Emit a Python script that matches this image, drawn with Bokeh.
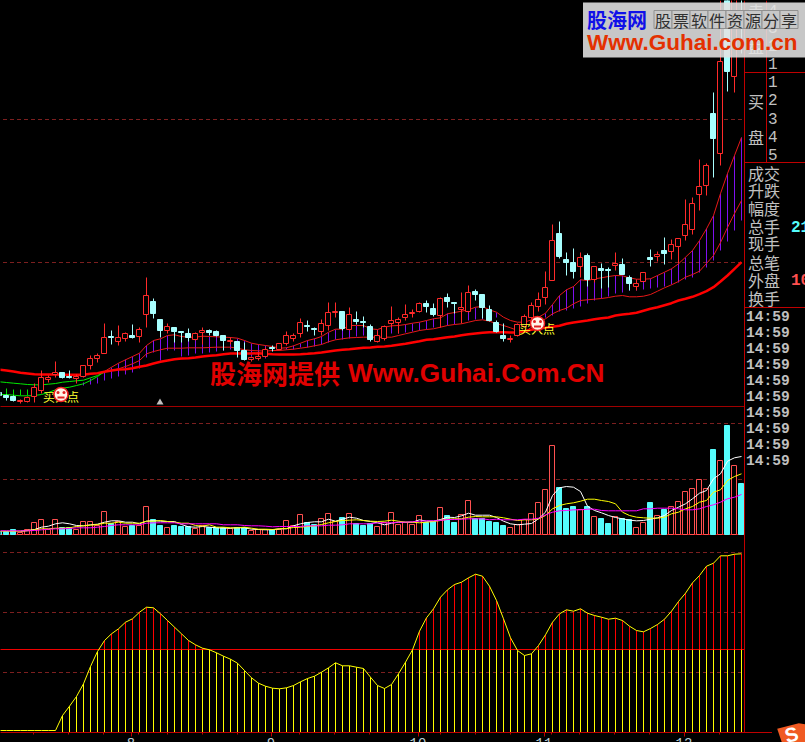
import numpy as np
from bokeh.embed import file_html
from bokeh.resources import INLINE
from bokeh.plotting import figure
from bokeh.models import Range1d, FixedTicker
from bokeh.core.properties import value

# ---------- data (one value per trading bar, 107 bars) ----------
# 1 = rising bar (red hollow), 0 = falling bar (cyan filled)
rising = "000 111111 00 11111 0 11 0 11 00 1 000 11 000 1 00 111 0 1111 00 111 0 1 000 1111111 00 1 00 11 00000 1111111 000 1 0 1 00 1 00 11 0 1 0 111111 0 1 0 1 0"
candle_high = [20,13,12,8,11,23.7,37,32.3,46,35,37,32.7,42,52,53.7,83.7,77,82,75.3,83,80.3,129.7,108.7,88,83.7,80,76,78.7,75.3,79.7,78.3,77,72,70.3,66,65.3,51,55.3,60.3,
    62,64.3,76,73.7,88.7,87,79.7,87.7,105,105,96,99.7,96,91,83,77,82,101,90.3,103,97.7,104.7,107,103.7,109.7,113.7,104.7,115,122,118,113,102,87,83.7,71.7,83.7,93,
    105.3,115.3,136,183,185.7,154.7,158.7,154.7,153.7,140.7,143.7,139.7,155,148.7,132.3,128.3,134.7,157.7,156,169.7,167.7,169.3,207.7,210.3,248,243.7,315.3,407,420,420,420]
candle_top = [15,12,11,7,10.3,20.3,29.7,29.7,34.7,35,31,31,42,49,52,69.7,71,70,74,72,77.7,111.7,106,88,81,80,76,74,73.7,77,77,76,72,67,66,57,49.7,51,57.7,
    59.7,63.7,71.7,72,85,82,78.7,83.7,95,95.7,96,92.7,88,86.3,81,71.7,81,87,88.3,93,95,104,104,99,109,110,104.7,99.7,115,116,113,98,84.7,72,69,82.7,91,
    101.7,107.7,120.3,166.7,174,147.7,144.7,149.7,151.7,140.7,139,138.3,144,142.7,129.7,123.7,134.7,150,152.7,156.7,162.7,169,183,203.7,221,242,293.7,346,407,415,420]
candle_bottom = [12,10.3,7,5.7,6,11,17,28.3,33,29.7,30.3,29.3,31,42,49.3,54.3,70,66,69,70,71,93,93.7,77,77,76,75,70,68,75,75,72,67,66,57,48,48.3,49,51,
    59,58.3,63.7,69.3,74.3,81,77.7,75.7,82.3,95,78.7,77.7,86,84.7,67.7,65.7,69,83.7,85.3,90,94.3,96.3,101.3,93,92.3,105.7,103.7,97.7,96.3,113.3,100,87,76,68.7,68.3,72,81.3,
    90.3,101,110.3,127.3,151.3,145.3,136,141.3,128.3,127.7,137.3,137.3,142.3,133.3,124.3,121.3,126.3,148.3,151.3,154.3,156.3,161.3,172,178.3,213.3,222.3,269.3,253.7,336.3,331,410]
candle_low = [8,7,6.3,3.7,4.7,5.3,14.3,25.3,29.7,28.7,28.7,23.7,29.7,37.7,45.3,54.3,63,62,66.3,68.7,65.3,80.3,88.7,69.7,74.3,65.3,65.3,66,67,63,72,71,57,63,50.3,47,46.3,47,49.7,
    56.3,57,61.7,65.7,70.3,75.7,72,72,77,89.7,77,77,83,79.7,66.3,65,67,80.3,73.7,87,89.7,95.3,95.3,91,80.3,99.7,93.7,84.3,95.3,107,88.7,86.3,75.3,66.3,65,71.3,80.3,
    87,96,103,127,149.3,132,129.3,129.7,121,125.3,118.7,120.3,137,132.7,117,117,126,141,146,143,147.7,144.3,167,172.7,197,212,229.7,242,316.3,315.3,353.7]

# long moving average, all bars
ma_long = [37.7,37,36,34.7,34,33.3,33,33,33,32.7,32.7,32.7,32.7,33.7,34.3,35.7,37,38,38.3,39.3,40.7,42,44,45.7,47,48.3,49,49.3,50,51,51.7,52.3,53.3,54,54,54,54,54.3,53.7,
    53.3,53,53,53,53.3,53.7,54.3,55,56,57,57.7,58.3,59,59.7,60,60.7,61,61.7,62.7,63.7,65,66.3,67.7,68.3,69.3,70.3,71,72.3,73.3,74,74.7,75.3,75.3,75.3,75,75,76.3,
    77.7,79,79.7,80.7,81.7,83.7,85,86,87,88.3,89.3,90,92,93,93.7,94.7,96.7,98.7,100.3,102.3,104.3,107,108.7,110.7,113.3,116.3,120.3,126,132,138.7,145.3]
# green averages, bars 0-15
ma_green_upper = [25.7,25,24.3,23.7,23,22.7,22.7,23.3,24,25.3,26,26.7,27.3,29.7,32,35.3]
ma_green_lower = [13,13,12.3,11.7,11.7,12,13,15,17.7,19.3,20.3,22,23.7,27,31,36]
green_bar_top = [18.7,17.7,17.7,17.7]  # bars 1-4
# thin red averages, bars 15-106
ma_upper = [36,40.3,44.3,47.7,51,54.3,62,67,68.7,72,72.7,71,70.3,70.3,71.3,71,70.7,70.3,70,69.3,67,64.3,63,62,
    61,59.3,59.7,61.7,64.3,67,68.7,71,75.3,78.3,78.3,82,82,82,78.7,78,80.3,81.7,82,83,84.3,85.3,87,88.7,89.7,93.7,95,96.3,97.7,100.3,101,97.7,95.3,90.3,87,85.3,85.3,
    87.7,90.3,94.3,103,112,117.7,121,127.7,127,128.7,129.7,131,132,131.7,129.7,128.3,128.3,128.7,132,135.3,138.7,143.7,150.3,157,167,178.7,192,214,234,252,270]
ma_lower = [36,37,38.7,41,43.7,47,53.7,56,57.7,59.3,59.3,59.3,59.7,59.7,59.7,60,60.3,60.3,60.3,59.3,57.7,57,56.7,56.3,
    57,57,57.7,58.3,59.3,60.3,61.7,63,65.7,67.7,68.7,69.7,70,70.3,70.3,70.3,70.3,70.3,72,73.7,75.3,77,78,78.7,80.3,82,83,83.7,85.3,87,87.7,86.3,83.7,82,79.7,77,75.3,
    80.3,85,88.7,93.7,97,99.3,103.7,107,107.7,108.3,109,110,111.3,112,110.7,110.7,111.3,113,116.3,119.7,122.7,126,130.3,133,136.3,144,152,165,180,194,207]
# purple bars, bars 12-106
purple_top = [25.3,28.7,30.3] + ma_upper
purple_bottom = [21.7,22.7,24,27,29.3,31,33,35.3,38.7,49.7,55.3,47,57,57,51,52,53.7,54.3,55.3,56,57,57.7,57,55.3,51,49.7,48.7,
    57,57.7,57.7,58.3,59.7,60.3,61,63,65.3,67.7,67.7,68.7,71,72,70.3,70.3,70.3,74.3,73.7,75,76,77,77.7,79.7,80.3,82,83,84.7,87,87.7,88,87,90.3,90.3,87,85.3,85.3,
    87.7,90.3,90.3,92,96,97,98.7,101,103.7,107,109.3,111,114.3,115.3,117,117,117.7,119.3,119.7,121,123,124.7,127.7,130.3,135,140,147,157,166,177,187]

# volume, all bars
volume = [3.3,3,4.7,2.3,4.7,11.7,14.7,4.7,14.7,7.3,7.3,5.3,12.7,12.7,9,22.7,10.7,13.3,8,9,9,27.7,14.7,9,6.7,9,8,8,6,8.7,6.7,6.7,6.7,5.7,6.7,7.3,4,4.7,4.7,
    4.7,4.7,14,8.7,19.7,11.7,9.7,15.7,20.7,13.3,17,20.7,10.7,9,11.3,8,12.3,21.7,10,12.3,9.7,18.7,12.3,13,26.7,18.7,12,19.7,33.7,15.7,15.7,13,12,9,6.7,9.7,14.7,
    20.7,31.7,44.7,88.7,47.3,25.7,28,24.7,28,18,16.3,11.3,18,16.3,14.7,6.7,12,32,19,25.3,28,33,43,45.7,54.7,45.7,85,73.7,109,68.7,51]
vol_ma_white = [3.3,4,5,7.3,8.3,10.7,11.7,10.7,9,8.7,9.7,10.3,12.3,13.7,13.7,12.3,12.3,10.7,13.3,14,13.3,13,13,10,7.7,7.3,8,7.3,6.7,6.3,6.3,6.7,6.7,5.3,5,4.7,
    4.7,5.7,5.7,8.7,10.7,12,12.7,12.7,15.3,13.3,15.3,17.3,16.3,14,13,11.7,9.7,11.3,12.3,12.3,12.3,14.7,13.3,13.3,15,17.3,17,18.7,21.3,19.3,19.3,19.3,17,13.3,10.7,9.7,
    10.3,11,15.7,22.3,39,46.7,48,47.3,43,28.3,24,21.7,19,17,15.7,14.3,13.7,14,15.3,16.7,19,24,27.3,30.7,35.7,41.3,44,55.7,60.7,73.3,76.7,78]  # bars 3-106
vol_ma_yellow = [3.3,3.3,3.3,3.3,3.7,4.7,5.7,5.7,6.3,6.3,6.7,8,8.7,9.3,10,11.3,11.3,12.3,11.3,11.3,11.3,13.3,13.3,14,13,12.3,11.3,11.3,9,8.3,9.7,7.3,7.3,6.7,6.7,7.3,6.3,5.3,5.3,
    5,5.7,6,7,7.3,8,8.7,10,11.7,13,14,14.3,14.7,14,13.3,13,13.3,14.3,13.3,12.3,12.3,11.7,12.3,13,14,15.3,15.7,15.7,17.3,18,17.7,17.7,17.7,16.7,15.3,14,
    14.7,14.7,15.7,19,25.7,29,30.7,31.7,33.3,35.3,35.3,34,33,30.7,22.3,19,17.3,16.7,16.3,16.3,17.3,20.7,22.3,25.7,28,32.3,34,42.3,44.7,54,58,60.7]
vol_ma_magenta = [3.7,3.7,3.7,3.7,3.7,4,4.7,5.3,5.7,5.7,6,6.7,6.7,6.7,7.3,8,9,9.7,9.7,9.7,9.7,11.3,11.7,11.7,11.7,11.7,10.7,10.7,10.7,10.7,10.7,10.7,9.7,9.7,9.7,9,8.7,8.7,8.3,
    7.7,8,8,8,8,8.7,8.7,8.7,9.3,9.3,9.7,10.7,10.7,10.7,10.7,11.7,11.7,11.7,12.3,12.3,12.7,13.3,13.7,13.7,14,15,15,15.3,15.7,15.7,15.7,14.7,15.3,14.7,14.7,14.7,
    15.3,15.3,16.3,19.7,22.3,23.7,24,24.7,24.7,25.3,25.3,24,23.7,23.7,23.7,23.7,23.7,25.7,25.7,26.3,26.3,26.3,25.7,24.7,24.7,25.7,28,29.7,32.3,35.7,37.3,40]

# lower indicator, all bars
indicator = [2,2,2,2,2,2,2,2,2,17,26.3,36,48.7,66,81,92,98.7,103.7,110.3,113.7,120.3,125.3,124.7,118.7,112,105.3,98.7,92,87.7,84.3,82.7,79.7,76.3,73.3,69.3,62,54.7,49.3,46.3,
    44.3,43.7,44.7,47,50.7,54,56.3,60.3,64.7,69.7,66.7,66.7,65.3,64,55.3,47,44,48,58.7,70.3,82.7,101.3,114.7,123.7,135.3,142.7,148,150.3,154.7,158.3,156.3,146.3,132,113.7,94.7,82,77,78.7,
    87,97.7,110.3,118.7,122.7,121.3,123.7,119.3,117,115.3,113.3,114.3,112,106.3,102,100.7,104,108,113.3,121.3,131,139.3,149.7,157,166.3,169.3,176.7,176.7,178.3,178.7]
indicator_mid = 83
indicator_first_bar = 9

# axis
month_labels = {131: "8", 271: "9", 418: "10", 544: "11", 684: "12"}
minor_tick_px = [33, 68, 103, 138, 167, 202, 237, 299, 334, 369, 440, 475, 510, 551, 579, 614, 649, 719]
# side panel
side_rows = ["成交", "升跌", "幅度", "总手", "现手", "总笔", "外盘", "换手"]
side_times = ["14:59"] * 10

n = len(candle_high)
flags = np.array([int(c) for c in rising.replace(" ", "")])
for a in (flags, candle_top, candle_bottom, candle_low, ma_long, volume, vol_ma_yellow, vol_ma_magenta, indicator):
    assert len(a) == n, len(a)
assert len(vol_ma_white) == n - 3
assert len(ma_upper) == n - 15 and len(ma_lower) == n - 15
assert len(purple_bottom) == n - 12

# ---------- colours ----------
BG = "#000000"; RED = "#ff2a2a"; CY_C = "#a8ffff"; CY_V = "#54fcfc"; VOLRED = "#ff5050"
DASH = "#7c1f1f"; RULE = "#c00000"; GREY = "#c0c0c0"; PURPLE = "#7f10f0"

W, H_FRAME = 805, 732
sx = lambda px: (px + 0.5) / 7.0           # window x -> bar index
sy = lambda row: 407 - row                 # window row -> main scale

p = figure(frame_width=W, frame_height=H_FRAME, width=W, height=742, output_backend="svg",
           toolbar_location=None, min_border=0, y_axis_location=None,
           x_range=Range1d(sx(0.5), sx(W + 0.5)), y_range=Range1d(407 - H_FRAME, 407),
           background_fill_color=BG, border_fill_color=BG, outline_line_color=None,
           styles={"position": "fixed", "left": "0", "top": "0", "background-color": BG})
p.grid.visible = False
p.extra_y_ranges = {"vol": Range1d(534 - H_FRAME, 534), "ind": Range1d(732 - H_FRAME, 732)}

ax = p.xaxis[0]
ax.ticker = FixedTicker(ticks=[sx(k) for k in month_labels], minor_ticks=[sx(k) for k in minor_tick_px])
ax.major_label_overrides = {sx(k): v for k, v in month_labels.items()}
ax.axis_line_color = RULE; ax.major_tick_line_color = RULE; ax.minor_tick_line_color = RULE
ax.major_tick_out = 4; ax.major_tick_in = 0; ax.minor_tick_out = 2; ax.minor_tick_in = 0
ax.major_label_standoff = 1
ax.major_label_text_color = "#b8ccd4"; ax.major_label_text_font = "Liberation Mono"; ax.major_label_text_font_size = "14px"

x = np.arange(n)
snap = np.round

# ---------- rules ----------
def hline(row, color, dash="solid", x1=744.5, width=1):
    p.line([sx(0), sx(x1)], [sy(row), sy(row)], line_color=color, line_dash=dash, line_width=width)
for row in (119, 262, 423, 479, 552, 612, 672):
    p.line([sx(3), sx(744)], [sy(row), sy(row)], line_color=DASH, line_dash="4 3")
hline(406, "#a00000"); hline(534, "#f00000"); hline(649, "#f00000")

# ---------- main panel ----------
bt, bb = np.array(purple_top), np.array(purple_bottom)
p.segment(x[12:], snap(bt), x[12:], snap(bb), line_color=PURPLE, line_width=1)
p.segment(x[1:5], snap(green_bar_top), x[1:5], snap(ma_green_lower[1:5]), line_color="#00e000", line_width=1)
p.line(x[:16], ma_green_upper, line_color="#00e800", line_width=1)
p.line(x[:16], ma_green_lower, line_color="#00e800", line_width=1)
p.line(x[15:], ma_upper, line_color="#e81818", line_width=1)
p.line(x[15:], ma_lower, line_color="#e81818", line_width=1)
p.line(x, ma_long, line_color="#ff0000", line_width=2.5)

for f, col in ((1, RED), (0, CY_C)):
    m = flags == f
    xs = x[m]
    p.segment(xs, snap(np.array(candle_low)[m]), xs, snap(np.array(candle_high)[m]), line_color=col, line_width=1)
    p.quad(left=xs - 3 / 7, right=xs + 2 / 7, top=snap(np.array(candle_top)[m]), bottom=snap(np.array(candle_bottom)[m]),
           fill_color=BG if f else col, line_color=col, line_width=1)

# buy-point marks
for cx, cy, tx, ty in ((61, 394, 61, 396), (537.5, 323, 537, 328)):
    p.text([sx(tx)], [sy(ty)], text=["买入点"], text_color="#ffff30", text_font=value("Noto Sans CJK SC"),
           text_font_size="12px", text_align="center", text_baseline="middle")
    p.scatter([sx(cx)], [sy(cy)], size=14, marker="circle", fill_color="#fff4e8", line_color="#f02020", line_width=1.5)
    p.scatter([sx(cx - 3), sx(cx + 3)], [sy(cy - 2)] * 2, size=3, marker="circle", fill_color="#e02020", line_color=None)
    p.scatter([sx(cx)], [sy(cy + 3)], size=7, marker="dash", line_color="#e02020", line_width=2)
p.scatter([sx(160)], [sy(402)], size=7, marker="triangle", fill_color=GREY, line_color=None)

# ---------- volume ----------
v = snap(np.array(volume))
m = flags == 1
p.quad(left=x[m] - 3 / 7, right=x[m] + 2 / 7, top=v[m], bottom=0, fill_color=BG, line_color=VOLRED, y_range_name="vol")
m = flags == 0
p.quad(left=x[m] - 3 / 7, right=x[m] + 2 / 7, top=v[m], bottom=0, fill_color=CY_V, line_color=CY_V, y_range_name="vol")
p.line(x[3:], vol_ma_white, line_color="#ffffff", y_range_name="vol")
p.line(x, vol_ma_yellow, line_color="#ffff00", y_range_name="vol")
p.line(x, vol_ma_magenta, line_color="#ff00ff", y_range_name="vol")

# ---------- indicator ----------
ind = np.array(indicator)
idx = x[indicator_first_bar:]
vals = ind[indicator_first_bar:]
p.segment(idx, 0, idx, np.minimum(vals, indicator_mid), line_color="#ffff00", y_range_name="ind")
up = vals > indicator_mid
p.segment(idx[up], indicator_mid, idx[up], vals[up], line_color="#ff0000", y_range_name="ind")
p.line(x, ind, line_color="#ffff00", y_range_name="ind")

# ---------- side panel ----------
p.line([sx(744.5)] * 2, [sy(0), sy(733)], line_color=RULE)
p.line([sx(766.5)] * 2, [sy(0), sy(162)], line_color=RULE)
for row in (72, 162, 307):
    p.line([sx(744.5), sx(806)], [sy(row), sy(row)], line_color=RULE)

CJK = value("Noto Sans CJK SC")
def side(px, row, txt, color=GREY, font=CJK, size="16px", style="normal", align="left"):
    p.text([sx(px)], [sy(row)], text=[txt], text_color=color, text_font=font, text_font_size=size,
           text_font_style=style, text_align=align, text_baseline="middle")
for t, r in zip("卖盘买盘", (10, 45, 100, 136)):
    side(748, r, t)
for d, r in zip("432112345", (10, 27, 45, 63, 81, 99, 118, 136, 154)):
    side(768, r, d, font=value("Liberation Mono"))
for i, t in enumerate(side_rows):
    side(748, (172, 189, 207, 225, 242, 261, 279, 297)[i], t)
side(791, 226, "21", color=CY_V, font=value("Liberation Mono"), style="bold")
side(791, 279, "10", color=VOLRED, font=value("Liberation Mono"), style="bold")
for i, t in enumerate(side_times):
    side(746, 316 + 16 * i, t, font=value("Liberation Mono"), size="14.6px", style="bold")

# ---------- overlays ----------
p.text([sx(210)], [sy(372)], text=["股海网提供"], text_color="#e00000", text_font=CJK, text_font_size="26px",
       text_font_style="bold", text_baseline="middle")
p.text([sx(348)], [sy(372)], text=["Www.Guhai.Com.CN"], text_color="#e00000", text_font=value("Liberation Sans"),
       text_font_size="26.2px", text_font_style="bold", text_baseline="middle")

p.quad(left=sx(583), right=sx(806), top=sy(2), bottom=sy(57), fill_color="#e2e2e2", fill_alpha=0.88, line_color=None)
p.text([sx(587)], [sy(19)], text=["股海网"], text_color="#1010e8", text_font=CJK, text_font_size="20px",
       text_font_style="bold", text_baseline="middle")
for i, t in enumerate("股票软件资源分享"):
    p.quad(left=sx(654 + 18 * i), right=sx(672 + 18 * i), top=sy(10), bottom=sy(28), fill_color="#c8c8c8",
           line_color="#909090")
    p.text([sx(663 + 18 * i)], [sy(19)], text=[t], text_color="#303030", text_font=CJK, text_font_size="16px",
           text_align="center", text_baseline="middle")
p.text([sx(587)], [sy(42)], text=["Www.Guhai.com.cn"], text_color="#e43000", text_font=value("Liberation Sans"),
       text_font_size="22.5px", text_font_style="bold", text_baseline="middle")

# corner badge in the bottom-right corner, below the frame of the main figure
badge = figure(width=33, height=22, output_backend="svg", toolbar_location=None, min_border=0,
               x_axis_location=None, y_axis_location=None, x_range=Range1d(772, 805), y_range=Range1d(742, 720),
               background_fill_color=BG, border_fill_color=BG, outline_line_color=None,
               styles={"position": "fixed", "left": "772px", "top": "720px", "background-color": BG})
badge.grid.visible = False
badge.patch([776.7, 798.3, 806, 806, 781.7], [728.3, 722.7, 724, 743, 743], fill_color="#f05a22", line_color=None)
badge.text([791], [734], text=["S"], text_color="#ffffff", text_font=value("Liberation Sans"), text_font_size="20px",
           text_font_style="bold", text_align="center", text_baseline="middle", angle=0.25)

open("out.html", "w").write(file_html([p, badge], INLINE))
